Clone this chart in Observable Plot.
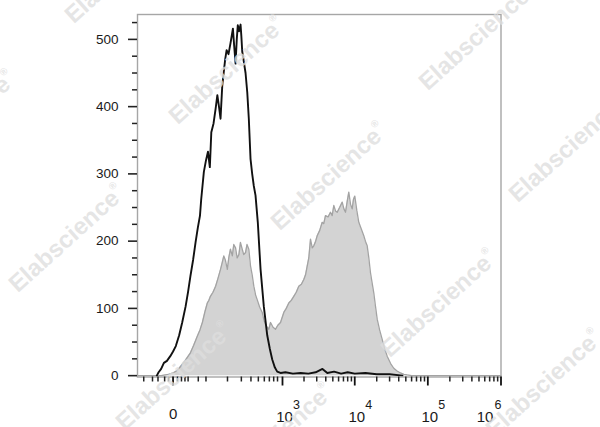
<!DOCTYPE html>
<html><head><meta charset="utf-8">
<script src="https://cdn.jsdelivr.net/npm/d3@7"></script>
<script src="https://cdn.jsdelivr.net/npm/@observablehq/plot@0.6"></script>
<style>
body{margin:0;background:#fff}
#wrap{position:relative;width:600px;height:427px;overflow:hidden}
#wm{position:absolute;left:0;top:0;pointer-events:none}
</style>
</head><body><div id="wrap"></div>
<script>
// Unstained / isotype control (black outline)
const blackX = [-22,-19,-15,-11,-7,-3,0,3,7,11,16,20,24,29,34,39,44,47,54,60,66,72,77,85,93,100,107,114,122,130,137,145,156,168,176,184,193,203,212,220,230,243,250,258,270,290,308,325,345,365,386,409,442,485,541,606,660,715,780,842,938,1100,1400,1800,2300,2900,3600,4200,5200,6500,8000,10000,14000,20000,30000,45000];
const blackY = [0,5,10,19,22,29,36,44,60,79,103,125,148,172,198,220,238,262,303,320,333,310,362,375,397,417,400,382,430,452,470,484,478,494,505,516,490,464,500,521,512,522,505,482,470,450,421,382,322,300,282,268,228,158,103,60,40,24,12,6,4,5,3,4,3,5,10,4,6,3,5,3,4,2,2,0];
// Stained sample (gray filled)
const grayX = [-68,-15,-5,0,5,9,15,24,30,38,44,50,57,64,69,74,83,93,103,114,122,130,138,149,158,168,174,180,190,203,215,229,242,258,272,290,305,325,345,365,386,410,433,470,513,545,573,605,639,676,735,797,860,938,1044,1130,1227,1330,1442,1560,1693,1840,1987,2100,2215,2330,2461,2600,2734,2900,3046,3300,3571,3750,3964,4300,4646,4900,5158,5450,5745,6200,6729,7100,7468,7900,8287,8750,9227,9600,10016,10700,11365,12300,13305,14000,14810,15600,16434,17300,18233,19200,20298,21900,23763,25700,27812,31000,34238,38000,42280,47000,52210,60000,1000000];
const grayY = [0,0,2,4,8,14,22,34,45,59,68,79,95,108,112,118,124,133,145,158,168,178,172,158,176,188,183,178,195,190,175,180,198,188,180,183,195,188,163,150,133,120,113,102,94,82,76,72,69,79,72,69,75,79,94,100,108,112,118,124,133,136,143,150,163,175,203,190,193,200,208,216,228,226,238,236,243,238,253,245,243,250,258,248,243,260,273,255,248,262,267,245,228,218,208,200,193,175,153,138,123,104,84,68,54,40,29,18,11,7,4,2,1,0,0];

const yMajor = [0,100,200,300,400,500];
const yMinor = [25,50,75,125,150,175,225,250,275,325,350,375,425,450,475,525];
const xDecades = [1000,10000,100000];
const xDecadeExp = ["3","4","5"];
const xLast = [1000000];
const xLastExp = ["6"];
const xMajor = [0,1000,10000,100000,1000000];
const xMinor = [-50,-30,-20,-10,-5,5,10,15,20,40,60,150,250,350,450,550,650,750,850,
  2000,3000,4000,5000,6000,7000,8000,9000,
  20000,30000,40000,50000,60000,70000,80000,90000,
  200000,300000,400000,500000,600000,700000,800000,900000];

const black = blackX.map((x,i)=>({x, y: blackY[i]}));
const gray = grayX.map((x,i)=>({x, y: grayY[i]}));

const font = "'Liberation Sans', Arial, sans-serif";
const chart = Plot.plot({
  width: 600, height: 427,
  marginLeft: 137, marginRight: 99.5, marginTop: 14, marginBottom: 50.5,
  style: {fontFamily: font, color: "#1a1a1a", background: "transparent"},
  x: {type: "symlog", constant: 33, domain: [-68, 1000000], label: null},
  y: {domain: [-2, 537], label: null},
  marks: [
    Plot.areaY(gray, {x: "x", y: "y", fill: "#d3d3d3"}),
    Plot.lineY(gray, {x: "x", y: "y", stroke: "#a3a3a3", strokeWidth: 1.3}),
    Plot.lineY(black, {x: "x", y: "y", stroke: "#111", strokeWidth: 1.9}),
    Plot.frame({stroke: "#a6a6a6", strokeWidth: 1.4}),
    Plot.axisY(yMinor, {tickSize: 5, tickFormat: () => "", strokeWidth: 1.5, stroke: "#222", label: null}),
    Plot.axisY(yMajor, {tickSize: 9, tickPadding: 10, fontSize: 13.5, strokeWidth: 1.6, stroke: "#222", label: null}),
    Plot.axisX(xMinor, {tickSize: 5, tickFormat: () => "", strokeWidth: 1.5, stroke: "#222", label: null}),
    Plot.axisX(xMajor, {tickSize: 9, tickFormat: () => "", strokeWidth: 1.8, stroke: "#111", label: null}),
    Plot.text([0], {x: d => d, text: () => "0", frameAnchor: "bottom", dy: 42, fontSize: 15, fill: "#1a1a1a"}),
    Plot.text(xDecades, {x: d => d, text: () => "10", frameAnchor: "bottom", dy: 45, dx: 2, fontSize: 15, fill: "#1a1a1a"}),
    Plot.text(xDecades, {x: d => d, text: (d,i) => xDecadeExp[i], frameAnchor: "bottom", dy: 32, dx: 14, fontSize: 12.5, fill: "#1a1a1a"}),
    Plot.text(xLast, {x: d => d, text: () => "10", frameAnchor: "bottom", dy: 45, dx: -16, fontSize: 15, fill: "#1a1a1a"}),
    Plot.text(xLast, {x: d => d, text: (d,i) => xLastExp[i], frameAnchor: "bottom", dy: 32, dx: -3, fontSize: 12.5, fill: "#1a1a1a"})
  ]
});
const wrap = document.getElementById("wrap");
wrap.appendChild(chart);

// Watermark overlay
const wmCenters = [[124,-29],[228,72],[478,38],[-41,126],[330,178],[568,150],[68,240],[440,305],[175,378],[545,385],[276,439]];
const svg = d3.select(wrap).append("svg").attr("id","wm").attr("width",600).attr("height",427);
for (const [cx, cy] of wmCenters) {
  const t = svg.append("text")
    .attr("transform", `translate(${cx},${cy}) rotate(-42)`)
    .attr("text-anchor", "middle").attr("dominant-baseline", "middle")
    .attr("font-family", font).attr("font-weight", "bold").attr("font-size", 24)
    .attr("fill", "rgb(222,222,222)").attr("fill-opacity", 0.8);
  t.append("tspan").text("Elabscience");
  t.append("tspan").text("®").attr("font-size", 10).attr("dy", -10);
}
</script>
</body></html>
